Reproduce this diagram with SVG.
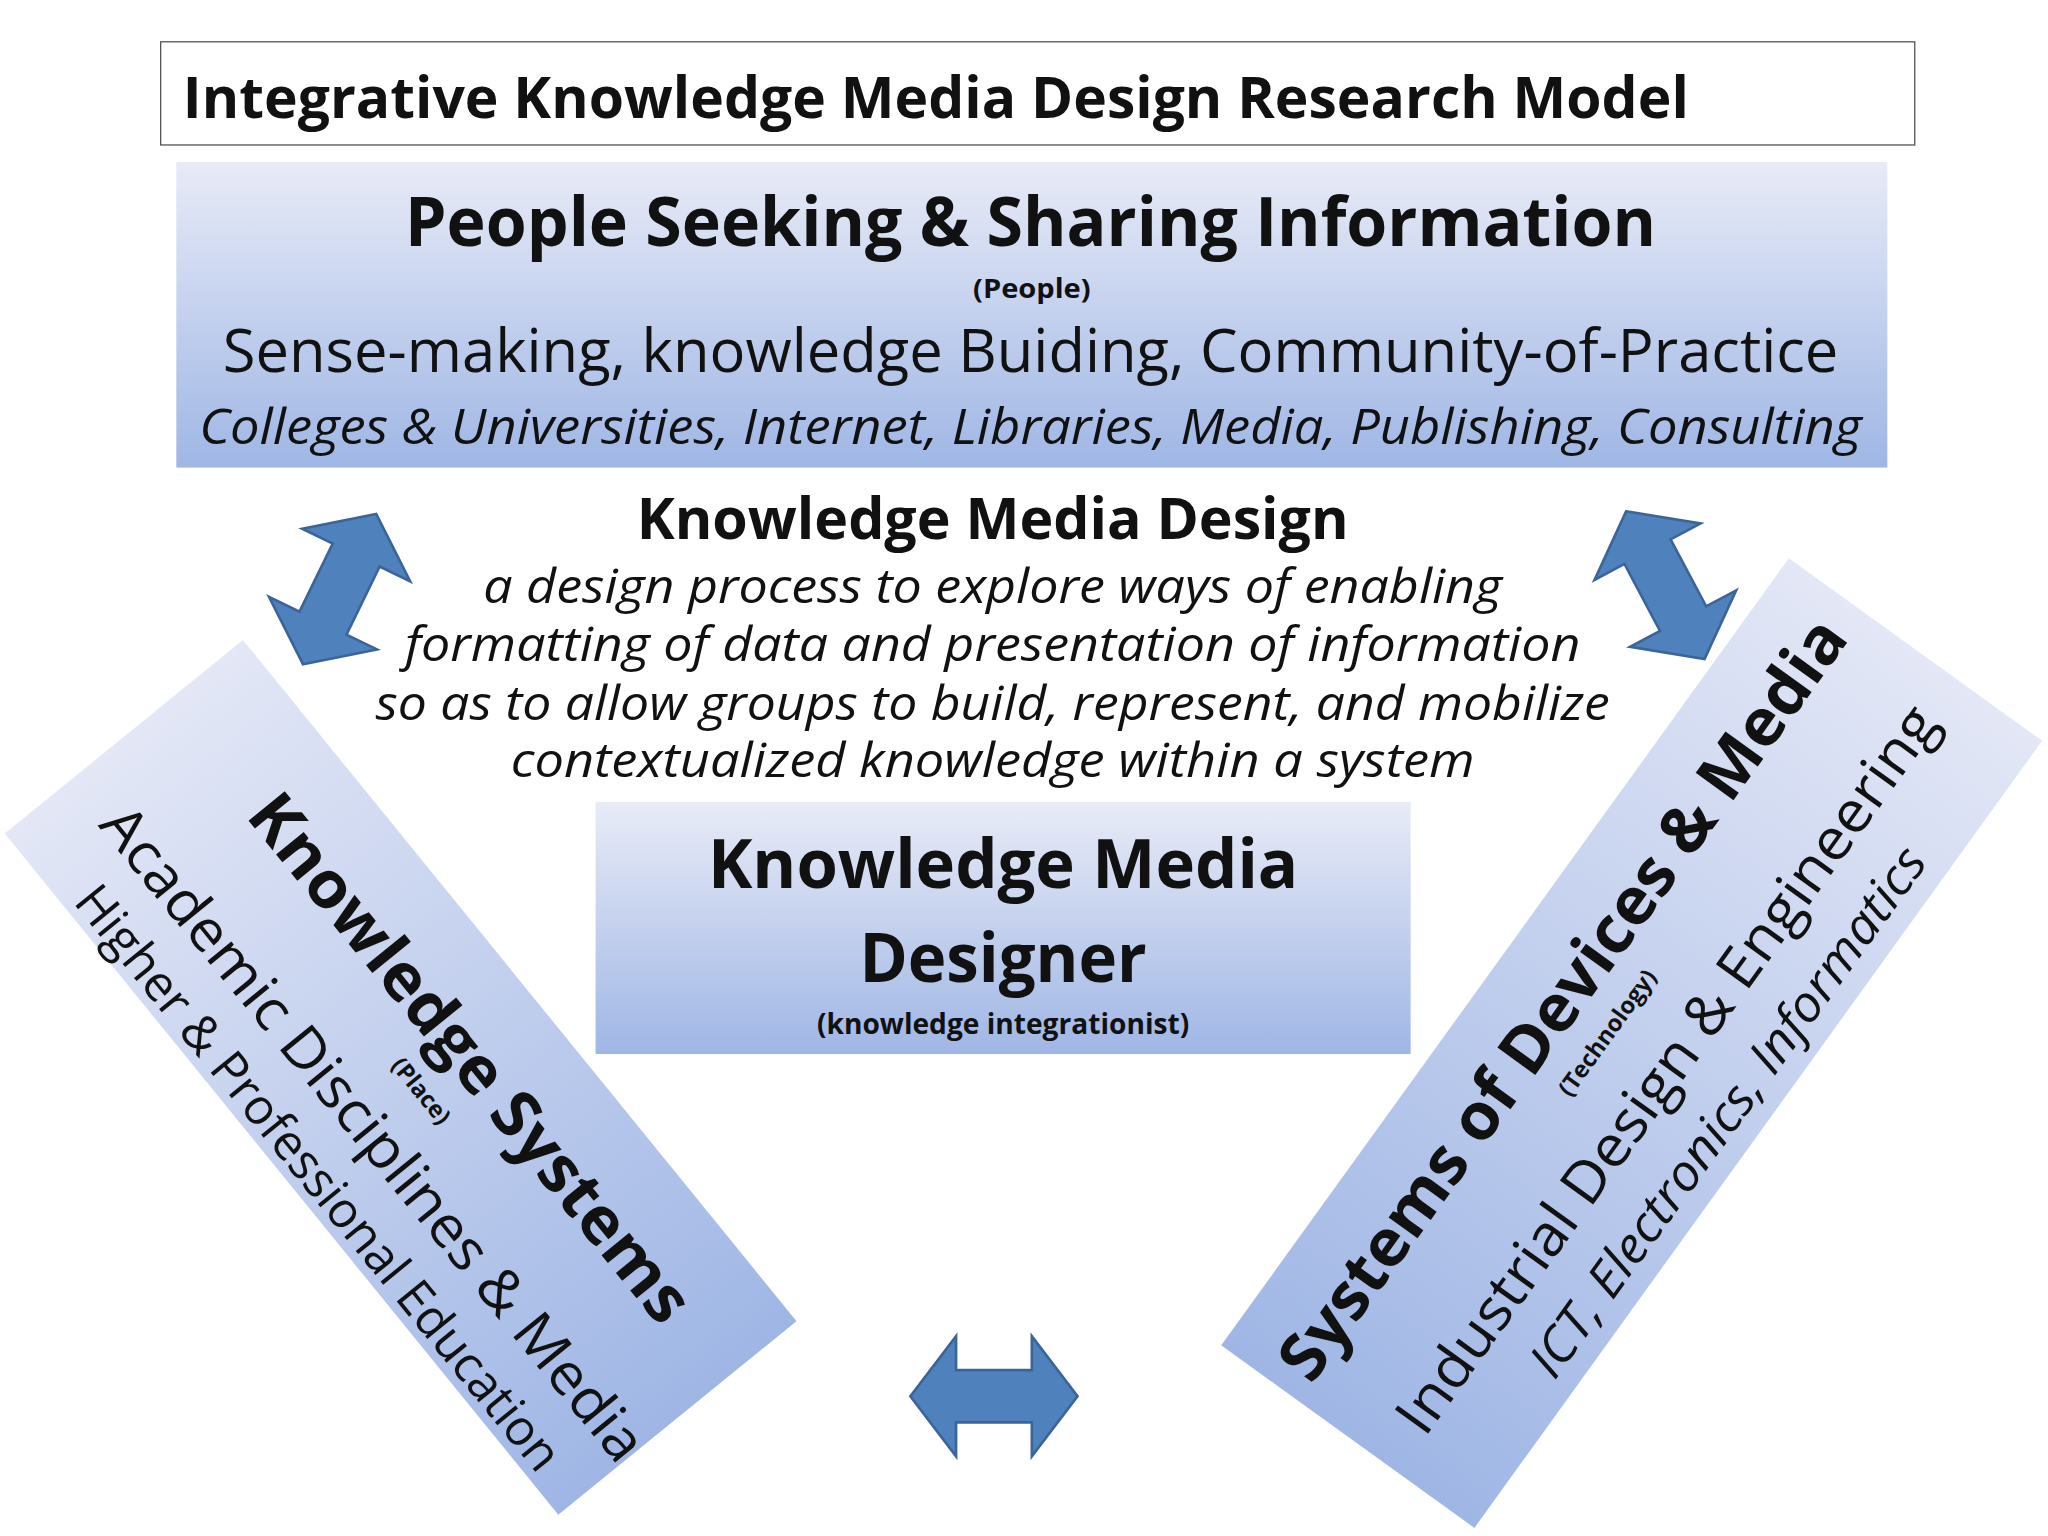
<svg xmlns="http://www.w3.org/2000/svg" width="2048" height="1536" viewBox="0 0 2048 1536">
<style>
text{font-family:"Open Sans","Noto Sans","Liberation Sans",sans-serif;fill:#111}
.b{font-weight:bold}
.i{font-style:italic}
.arr{fill:#4f81bd;stroke:#3b6599;stroke-width:2}
</style>
<defs>
<linearGradient id="gv" x1="0" y1="0" x2="0" y2="1"><stop offset="0" stop-color="#e8ebf7"/><stop offset="1" stop-color="#9fb6e5"/></linearGradient>
<linearGradient id="gl" x1="0" y1="0" x2="1" y2="0"><stop offset="0" stop-color="#e3e7f6"/><stop offset="1" stop-color="#9fb6e5"/></linearGradient>
<linearGradient id="gr" x1="1" y1="0" x2="0" y2="0"><stop offset="0" stop-color="#e3e7f6"/><stop offset="1" stop-color="#9fb6e5"/></linearGradient>
<path id="da" d="M-64,0 L-29,-46 L-29,-20 L29,-20 L29,-46 L64,0 L29,46 L29,20 L-29,20 L-29,46 Z"/>
</defs>
<rect width="2048" height="1536" fill="#fff"/>
<g transform="scale(1.30612)">
<g id="title">
<rect x="123" y="32" width="1343" height="79" fill="#fff" stroke="#555" stroke-width="1"/>
<text x="140" y="90" class="b" font-size="44" textLength="1153" lengthAdjust="spacingAndGlyphs">Integrative Knowledge Media Design Research Model</text>
</g>
<g id="people">
<rect x="135" y="124" width="1310" height="234" fill="url(#gv)"/>
<text x="789" y="188" class="b" font-size="52" text-anchor="middle" textLength="958" lengthAdjust="spacingAndGlyphs">People Seeking &amp; Sharing Information</text>
<text x="790" y="228" class="b" font-size="20" text-anchor="middle" textLength="90" lengthAdjust="spacingAndGlyphs">(People)</text>
<text x="789" y="285" font-size="46" text-anchor="middle" textLength="1237" lengthAdjust="spacingAndGlyphs">Sense-making, knowledge Buiding, Community-of-Practice</text>
<text x="789" y="340" class="i" font-size="38" text-anchor="middle" textLength="1273" lengthAdjust="spacingAndGlyphs">Colleges &amp; Universities, Internet, Libraries, Media, Publishing, Consulting</text>
</g>
<g id="kmd">
<text x="760" y="413" class="b" font-size="44" text-anchor="middle" textLength="545" lengthAdjust="spacingAndGlyphs">Knowledge Media Design</text>
<text x="760" y="462" class="i" font-size="36" text-anchor="middle" textLength="780" lengthAdjust="spacingAndGlyphs">a design process to explore ways of enabling</text>
<text x="760" y="506" class="i" font-size="36" text-anchor="middle" textLength="900" lengthAdjust="spacingAndGlyphs">formatting of data and presentation of information</text>
<text x="760" y="551" class="i" font-size="36" text-anchor="middle" textLength="945" lengthAdjust="spacingAndGlyphs">so as to allow groups to build, represent, and mobilize</text>
<text x="760" y="595" class="i" font-size="36" text-anchor="middle" textLength="738" lengthAdjust="spacingAndGlyphs">contextualized knowledge within a system</text>
</g>
<g id="designer">
<rect x="456" y="614" width="624" height="193" fill="url(#gv)"/>
<text x="768" y="680" class="b" font-size="52" text-anchor="middle" textLength="452" lengthAdjust="spacingAndGlyphs">Knowledge Media</text>
<text x="768" y="752" class="b" font-size="52" text-anchor="middle" textLength="220" lengthAdjust="spacingAndGlyphs">Designer</text>
<text x="768" y="792" class="b" font-size="22" text-anchor="middle" textLength="285" lengthAdjust="spacingAndGlyphs">(knowledge integrationist)</text>
</g>
<g id="place" transform="translate(186,490) rotate(50.9)">
<rect x="0" y="0" width="672" height="235" fill="url(#gl)"/>
<text x="358" y="84" class="b" font-size="50" text-anchor="middle" textLength="505" lengthAdjust="spacingAndGlyphs">Knowledge Systems</text>
<text x="354" y="118" class="b" font-size="18" text-anchor="middle">(Place)</text>
<text x="356" y="176" font-size="44" text-anchor="middle" textLength="632" lengthAdjust="spacingAndGlyphs">Academic Disciplines &amp; Media</text>
<text x="356" y="228" font-size="38" text-anchor="middle" textLength="565" lengthAdjust="spacingAndGlyphs">Higher &amp; Professional Education</text>
</g>
<g id="technology" transform="translate(935,1030) rotate(-54.2)">
<rect x="0" y="0" width="743" height="239" fill="url(#gr)"/>
<text x="368" y="74" class="b" font-size="50" text-anchor="middle" textLength="705" lengthAdjust="spacingAndGlyphs">Systems of Devices &amp; Media</text>
<text x="367" y="106" class="b" font-size="18" text-anchor="middle">(Technology)</text>
<text x="371" y="168" font-size="44" text-anchor="middle" textLength="675" lengthAdjust="spacingAndGlyphs">Industrial Design &amp; Engineering</text>
<text x="372" y="223" class="i" font-size="38" text-anchor="middle" textLength="490" lengthAdjust="spacingAndGlyphs">ICT, Electronics, Informatics</text>
</g>
<g id="connectors">
<use href="#da" class="arr" transform="translate(260,451) rotate(-64)"/>
<use href="#da" class="arr" transform="translate(1275,448) rotate(62)"/>
<use href="#da" class="arr" transform="translate(761,1069)"/>
</g>
</g>
</svg>
